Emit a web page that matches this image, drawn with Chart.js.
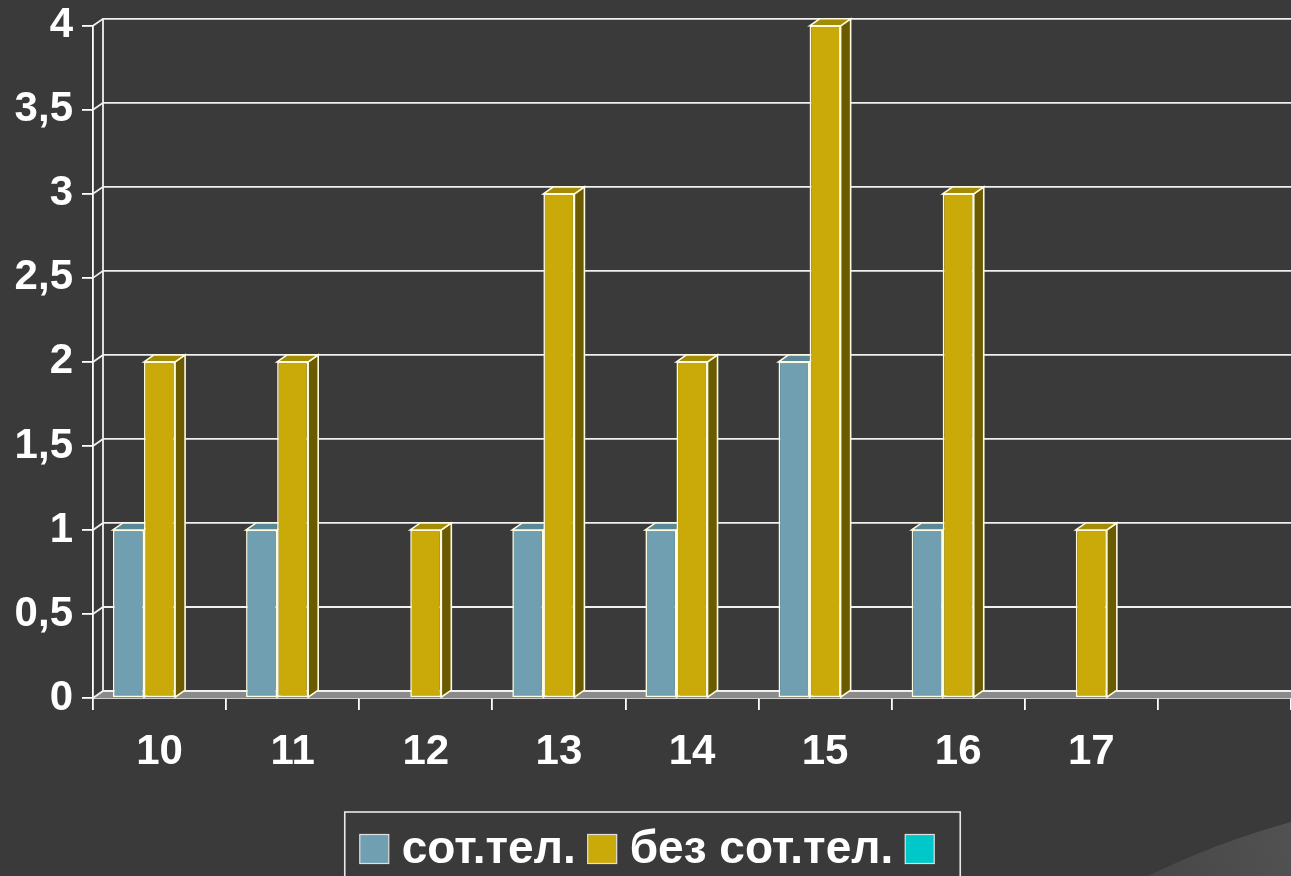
<!DOCTYPE html>
<html>
<head>
<meta charset="utf-8">
<script src="https://cdn.jsdelivr.net/npm/chart.js@4.4.0/dist/chart.umd.min.js"></script>
<style>
  html, body { margin: 0; padding: 0; background: #3a3a3a; }
  #wrap { width: 1291px; height: 876px; }
</style>
</head>
<body>
<div id="wrap"><canvas id="myChart" width="1291" height="876"></canvas></div>
<script>
const categories = ["10", "11", "12", "13", "14", "15", "16", "17", ""];
const withPhone = [1, 1, 0, 1, 1, 2, 1, 0, null];
const withoutPhone = [2, 2, 1, 3, 2, 4, 3, 1, null];
const emptySeries = [null, null, null, null, null, null, null, null, null];
const seriesLabels = ["сот.тел.", "без сот.тел.", ""];
const yTickLabels = ["0", "0,5", "1", "1,5", "2", "2,5", "3", "3,5", "4"];

const FONT = "'Liberation Sans', Arial, sans-serif";
const DX = 10;
const DY = 7;

// front / side / top colours for the fake 3d bars
const faces = [
  { front: "#6f9fb0", side: "#4a6d79", top: "#5b8898" },
  { front: "#c9aa08", side: "#6b5b00", top: "#a48b05" },
  { front: "#00c8c8", side: "#008a8a", top: "#00a8a8" },
];

const depthPlugin = {
  id: "depth",
  beforeDraw(chart) {
    const ctx = chart.ctx;
    ctx.save();
    ctx.fillStyle = "#3a3a3a";
    ctx.fillRect(0, 0, chart.width, chart.height);
    // slide decoration bottom right
    const g = ctx.createLinearGradient(1150, 876, 1291, 820);
    g.addColorStop(0, "#474747");
    g.addColorStop(1, "#525252");
    ctx.fillStyle = g;
    ctx.beginPath();
    ctx.moveTo(1148, 876);
    ctx.quadraticCurveTo(1215, 843, 1291, 822);
    ctx.lineTo(1291, 876);
    ctx.closePath();
    ctx.fill();
    ctx.restore();
  },
  beforeDatasetsDraw(chart) {
    const ctx = chart.ctx;
    const { left, right, top, bottom } = chart.chartArea;
    const yScale = chart.scales.y;
    ctx.save();

    // floor
    ctx.fillStyle = "#8a8a8a";
    ctx.beginPath();
    ctx.moveTo(left, bottom);
    ctx.lineTo(left + DX, bottom - DY);
    ctx.lineTo(right + DX, bottom - DY);
    ctx.lineTo(right, bottom);
    ctx.closePath();
    ctx.fill();

    // back wall grid
    ctx.strokeStyle = "#f0f0f0";
    ctx.lineWidth = 1.8;
    yScale.ticks.forEach((t) => {
      const py = yScale.getPixelForValue(t.value);
      ctx.beginPath();
      ctx.moveTo(left, py);
      ctx.lineTo(left + DX, py - DY);
      ctx.lineTo(right + DX, py - DY);
      ctx.stroke();
    });
    ctx.beginPath();
    ctx.moveTo(left + DX, top - DY);
    ctx.lineTo(left + DX, bottom - DY);
    ctx.stroke();

    // bars, one category at a time so the faces overlap properly
    const metas = chart.data.datasets.map((d, i) => chart.getDatasetMeta(i));
    for (let j = 0; j < categories.length; j++) {
      metas.forEach((meta, i) => {
        const v = chart.data.datasets[i].data[j];
        if (!v) return;
        const el = meta.data[j];
        el.draw(ctx);
        const p = el.getProps(["x", "y", "base", "width"], true);
        const l = p.x - p.width / 2;
        const r = p.x + p.width / 2;
        const t = p.y;
        const b = p.base;
        ctx.lineWidth = 1.6;
        ctx.strokeStyle = "#fffbe0";
        ctx.fillStyle = faces[i].side;
        ctx.beginPath();
        ctx.moveTo(r, t);
        ctx.lineTo(r + DX, t - DY);
        ctx.lineTo(r + DX, b - DY);
        ctx.lineTo(r, b);
        ctx.closePath();
        ctx.fill();
        ctx.stroke();
        ctx.fillStyle = faces[i].top;
        ctx.beginPath();
        ctx.moveTo(l, t);
        ctx.lineTo(l + DX, t - DY);
        ctx.lineTo(r + DX, t - DY);
        ctx.lineTo(r, t);
        ctx.closePath();
        ctx.fill();
        ctx.stroke();
      });
    }
    ctx.restore();
    return false;
  },
  afterDraw(chart) {
    // boxed legend under the axis
    const ctx = chart.ctx;
    const sq = 29, gapText = 13, gapItem = 12, padL = 15, padR = 26;
    ctx.save();
    ctx.font = "bold 46px " + FONT;
    ctx.textBaseline = "middle";
    const widths = chart.data.datasets.map((d) => (d.label ? ctx.measureText(d.label).width : 0));
    let content = 0;
    widths.forEach((w, i) => {
      content += sq + (w ? gapText + w : 0) + (i < widths.length - 1 ? gapItem : 0);
    });
    const boxW = content + padL + padR;
    const boxL = chart.width / 2 + 7 - boxW / 2;
    const boxT = 812;
    ctx.strokeStyle = "#e8e8e8";
    ctx.lineWidth = 1.6;
    ctx.strokeRect(boxL, boxT, boxW, 90);
    let x = boxL + padL;
    const midY = 849;
    chart.data.datasets.forEach((d, i) => {
      ctx.fillStyle = d.backgroundColor;
      ctx.fillRect(x, midY - sq / 2, sq, sq);
      ctx.strokeStyle = "#e0e0e0";
      ctx.lineWidth = 1.2;
      ctx.strokeRect(x, midY - sq / 2, sq, sq);
      x += sq;
      if (widths[i]) {
        x += gapText;
        ctx.fillStyle = "#ffffff";
        ctx.fillText(d.label, x, midY + 1);
        x += widths[i];
      }
      x += gapItem;
    });
    ctx.restore();
  },
};

const datasets = [withPhone, withoutPhone, emptySeries].map((data, i) => ({
  label: seriesLabels[i],
  data: data,
  backgroundColor: faces[i].front,
  borderColor: "#fffbe0",
  borderWidth: 1.6,
  borderSkipped: false,
  categoryPercentage: 0.7,
  barPercentage: 1,
}));

new Chart("myChart", {
  type: "bar",
  data: { labels: categories, datasets: datasets },
  plugins: [depthPlugin],
  options: {
    responsive: false,
    animation: false,
    layout: { padding: { top: 25, right: 0, left: 0, bottom: 0 } },
    plugins: {
      tooltip: { enabled: false },
      legend: { display: false },
    },
    scales: {
      x: {
        afterFit: (scale) => { scale.height = 178; },
        grid: {
          drawOnChartArea: false,
          drawTicks: true,
          tickLength: 12,
          color: "#ffffff",
          lineWidth: 1.8,
        },
        border: { display: true, color: "#ffffff", width: 1.8 },
        ticks: {
          color: "#ffffff",
          font: { family: FONT, size: 42, weight: "bold" },
          padding: 17,
          maxRotation: 0,
          autoSkip: false,
        },
      },
      y: {
        min: 0,
        max: 4,
        afterFit: (scale) => { scale.width = 93; },
        grid: {
          drawOnChartArea: false,
          drawTicks: true,
          tickLength: 11,
          color: "#ffffff",
          lineWidth: 1.8,
        },
        border: { display: true, color: "#ffffff", width: 1.8 },
        ticks: {
          stepSize: 0.5,
          color: "#ffffff",
          font: { family: FONT, size: 42, weight: "bold", lineHeight: 0.8 },
          padding: 9,
          callback: (value, index) => yTickLabels[index],
        },
      },
    },
  },
});
</script>
</body>
</html>
